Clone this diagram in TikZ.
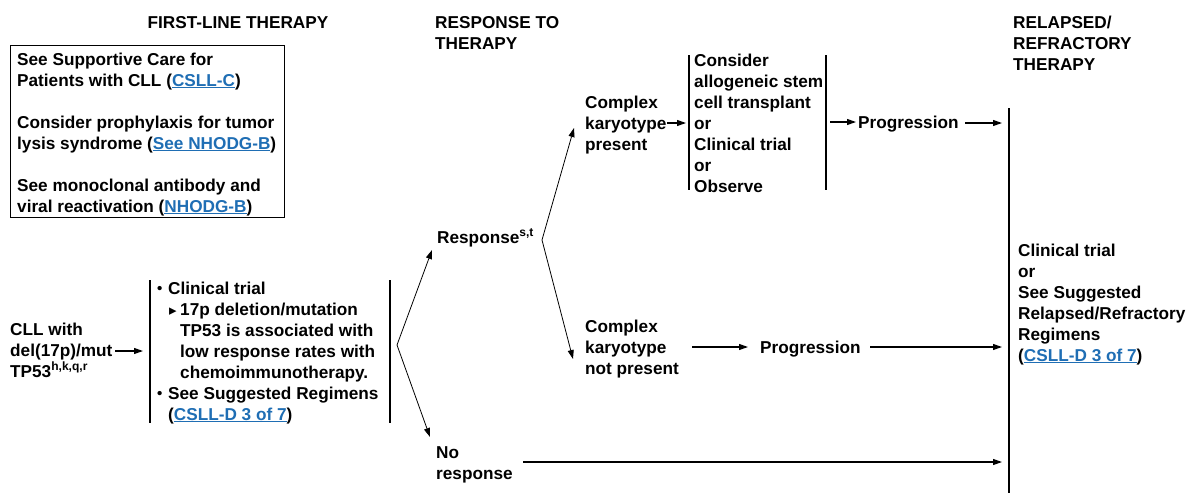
\documentclass[tikz,border=0pt]{standalone}
\usepackage{fontspec}
\setmainfont{Liberation Sans}
\newfontfamily\dejavu{DejaVu Sans}
\usetikzlibrary{arrows.meta}
\definecolor{linkblue}{RGB}{31,110,180}
\newcommand{\lnk}[1]{\textcolor{linkblue}{\underline{#1}}}
\newcommand{\smbul}{\raisebox{0.5pt}{\fontsize{15}{15}\selectfont •}}
\begin{document}
\begin{tikzpicture}[x=1pt,y=-1pt,
 txt/.style={inner sep=0pt, align=left, anchor=base west, font=\bfseries\fontsize{17.2}{21}\selectfont},
 arr/.style={-{Triangle[length=9pt,width=6pt]}, line width=1.1pt},
 diag/.style={-{Triangle[length=9pt,width=6pt]}, line width=0.8pt},
 bar/.style={line width=1.2pt}]
\useasboundingbox (0,0) rectangle (1192,493);

% headers (anchor = baseline of last line)
\node[txt, anchor=base] (h1) at (238,28) {FIRST-LINE THERAPY};
\node[txt] (h2) at (435,49) {RESPONSE TO\\THERAPY};
\node[txt] (h3) at (1013,70) {RELAPSED/\\REFRACTORY\\THERAPY};

% supportive care box
\node[draw, line width=1.2pt, anchor=north west, minimum width=274pt, minimum height=172pt, inner sep=0pt] (box) at (10,45) {};
\node[txt] (sup) at (17,212) {See Supportive Care for\\Patients with CLL (\lnk{CSLL-C})\\[21pt]Consider prophylaxis for tumor\\lysis syndrome (\lnk{See NHODG-B})\\[21pt]See monoclonal antibody and\\viral reactivation (\lnk{NHODG-B})};

% CLL
\node[txt] (cll) at (10,377) {CLL with\\del(17p)/mut\\TP53\textsuperscript{h,k,q,r}};
\coordinate (c1) at (115,351);
\coordinate (c2) at (143,351);
\draw[arr] (c1) -- (c2);

% first-line therapy
\draw[bar] (150,280) -- (150,423);
\draw[bar] (390,280) -- (390,423);
\node[txt] (ther) at (157,420) {\makebox[11pt][l]{\smbul}Clinical trial\\
\hspace*{12pt}\makebox[11pt][l]{\dejavu\fontsize{15}{15}\selectfont ▸}17p deletion/mutation\\
\hspace*{23pt}TP53 is associated with\\
\hspace*{23pt}low response rates with\\
\hspace*{23pt}chemoimmunotherapy.\\
\makebox[11pt][l]{\smbul}See Suggested Regimens\\
\hspace*{11pt}(\lnk{CSLL-D 3 of 7})};

% response fork
\coordinate (v1) at (397,345);
\coordinate (r1) at (432,250);
\coordinate (n1) at (430,437);
\draw[diag] (v1) -- (r1);
\draw[diag] (v1) -- (n1);
\node[txt] (resp) at (437,243) {Response\textsuperscript{s,t}};
\node[txt] (nores) at (436,479) {No\\response};

% complex karyotype fork
\coordinate (v2) at (542,240);
\coordinate (k1) at (574,128);
\coordinate (k2) at (573,359);
\draw[diag] (v2) -- (k1);
\draw[diag] (v2) -- (k2);
\node[txt] (cp) at (585,150) {Complex\\karyotype\\present};
\node[txt] (cnp) at (585,374) {Complex\\karyotype\\not present};

% options bracket
\draw[bar] (689,55) -- (689,190);
\draw[bar] (826,55) -- (826,190);
\node[txt] (opt) at (694,192) {Consider\\allogeneic stem\\cell transplant\\or\\Clinical trial\\or\\Observe};
\coordinate (p1) at (667,123);
\coordinate (p2) at (686,123);
\draw[arr] (p1) -- (p2);

% progression 1
\coordinate (q1) at (830,122);
\coordinate (q2) at (856,122);
\draw[arr] (q1) -- (q2);
\node[txt] (pr1) at (858,128) {Progression};
\coordinate (q3) at (965,123);
\coordinate (q4) at (1002,123);
\draw[arr] (q3) -- (q4);

% progression 2
\coordinate (s1) at (692,347);
\coordinate (s2) at (748,347);
\draw[arr] (s1) -- (s2);
\node[txt] (pr2) at (760,353) {Progression};
\coordinate (s3) at (870,347);
\coordinate (s4) at (1002,347);
\draw[arr] (s3) -- (s4);

% no response
\coordinate (t1) at (523,462);
\coordinate (t2) at (1002,462);
\draw[arr] (t1) -- (t2);

% relapsed/refractory
\draw[bar] (1009,108) -- (1009,493);
\node[txt] (rr) at (1018,361) {Clinical trial\\or\\See Suggested\\Relapsed/Refractory\\Regimens\\(\lnk{CSLL-D 3 of 7})};
\end{tikzpicture}
\end{document}
